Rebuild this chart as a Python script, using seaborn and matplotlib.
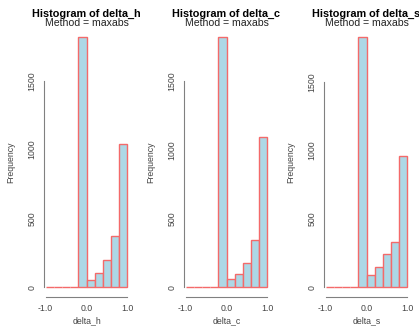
import numpy as np
import pandas as pd
import matplotlib
matplotlib.use('Agg')
import matplotlib.pyplot as plt
import seaborn as sns

# bin edges shared by all three histograms
bin_edges = [-1.0, -0.8, -0.6, -0.4, -0.2, 0.0, 0.2, 0.4, 0.6, 0.8, 1.0]

# counts per bin
counts_h = [5, 2, 1, 1, 1820, 55, 106, 197, 373, 1041]
counts_c = [4, 2, 1, 1, 1822, 62, 94, 174, 344, 1094]
counts_s = [5, 2, 1, 1, 1829, 88, 150, 240, 330, 958]

var_names = ['delta_h', 'delta_c', 'delta_s']
method = 'maxabs'

sns.set_style('white')
plt.rcParams['font.family'] = ['Liberation Sans', 'DejaVu Sans']

fig = plt.figure(figsize=(4.19, 3.28), dpi=100)
W, H = 419.0, 328.0

centers = [(a + b) / 2 for a, b in zip(bin_edges[:-1], bin_edges[1:])]

for i, (name, counts) in enumerate(zip(var_names, [counts_h, counts_c, counts_s])):
    left = 44 + 140 * i
    ax = fig.add_axes([left / W, 1 - 297.3 / H, 85 / W, 270.6 / H])
    df = pd.DataFrame({'x': centers, 'n': counts})
    sns.histplot(data=df, x='x', weights='n', bins=bin_edges, ax=ax,
                 color='#add8e6', alpha=1, edgecolor='#f46a6a', linewidth=1.0)
    top = max(counts)
    ax.set_xlim(-1.04, 1.04)
    ax.set_ylim(-0.04 * top, 1.04 * top)
    ax.set_xticks([-1.0, -0.5, 0.0, 0.5, 1.0])
    ax.set_xticklabels(['-1.0', '', '0.0', '', '1.0'])
    ax.set_yticks([0, 500, 1000, 1500])
    ax.set_yticklabels(['0', '500', '1000', '1500'], rotation=90, va='center')
    for s in ['top', 'right']:
        ax.spines[s].set_visible(False)
    ax.spines['left'].set_bounds(0, 1500)
    ax.spines['bottom'].set_bounds(-1, 1)
    for s in ['left', 'bottom']:
        ax.spines[s].set_color('#808080')
        ax.spines[s].set_linewidth(0.8)
    ax.tick_params(axis='both', which='both', direction='out', length=3,
                   width=0.8, color='#808080', labelsize=6.3, labelcolor='#444444', pad=1.5)
    ax.tick_params(axis='y', pad=2.5)
    ax.set_xlabel(name, fontsize=6.3, color='#444444')
    ax.set_ylabel('Frequency', fontsize=6.3, color='#444444')
    ax.xaxis.set_label_coords(0.5, -(320.7 - 297.3) / 270.6)
    ax.xaxis.label.set_va('center')
    ax.yaxis.set_label_coords(-(left - 11 - 140 * i) / 85.0, 0.5)
    ax.yaxis.label.set_va('center')

    cx = (left + 42.5) / W
    fig.text(cx, 1 - 14 / H, 'Histogram of ' + name, ha='center', va='center',
             fontsize=7.8, fontweight='bold', color='black')
    fig.text(cx, 1 - 23 / H, 'Method = ' + method, ha='center', va='center',
             fontsize=7.6, color='#222222')

fig.savefig('out.png', dpi=100)
